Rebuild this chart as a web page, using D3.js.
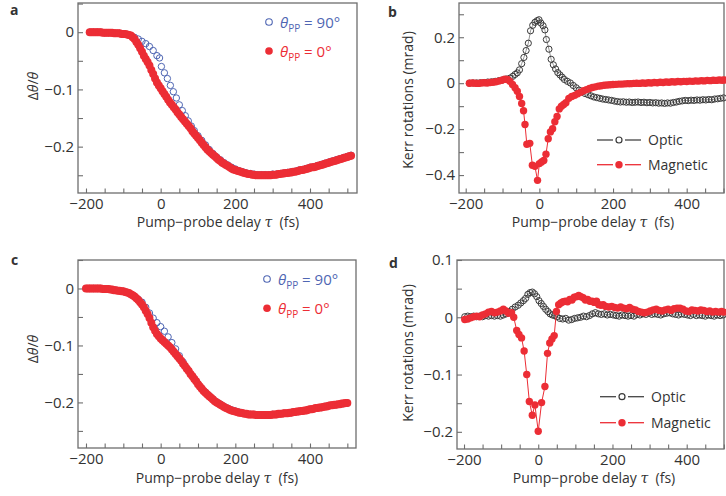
<!DOCTYPE html>
<html><head><meta charset="utf-8">
<script src="https://cdn.jsdelivr.net/npm/d3@7"></script>
<style>
body{margin:0;background:#fff}
svg{display:block}
text{font-family:"Open Sans",sans-serif;fill:#333}
</style>
</head><body>
<script>
// ---------------- DATA ----------------
const xMajorTicks = [-200, 0, 200, 400];
const xAllTicks = [-200, -150, -100, -50, 0, 50, 100, 150, 200, 250, 300, 350, 400, 450, 500];
const yTicksAC = [0, -0.1, -0.2];
const yAllAC = [0.05, 0, -0.05, -0.1, -0.15, -0.2, -0.25];
const yTicksB = [0.2, 0, -0.2, -0.4];
const yAllB = [0.3, 0.2, 0.1, 0, -0.1, -0.2, -0.3, -0.4];
const yTicksD = [0.1, 0, -0.1, -0.2];
const yAllD = [0.1, 0.05, 0, -0.05, -0.1, -0.15, -0.2];

const seriesNamesAC = ["θPP = 90°", "θPP = 0°"];
const seriesNamesBD = ["Optic", "Magnetic"];

// panel a : theta_PP = 90 deg (blue open)
const a90 = [[-190,0],[-180,0],[-170,0],[-160,0],[-150,-0.001],[-140,-0.001],[-130,-0.001],[-120,-0.002],[-110,-0.002],[-100,-0.003],[-90,-0.004],[-80,-0.006],[-70,-0.009],[-60,-0.012],[-50,-0.016],[-40,-0.020],[-30,-0.025],[-20,-0.032],[-10,-0.041],[-3,-0.045],[2,-0.060],[10,-0.071],[18,-0.081],[26,-0.093],[34,-0.104],[42,-0.115],[50,-0.127],[58,-0.137],[66,-0.146],[74,-0.155],[82,-0.164],[90,-0.172],[100,-0.181],[110,-0.189],[120,-0.197],[130,-0.205],[140,-0.212],[150,-0.218],[160,-0.223],[170,-0.228],[180,-0.232],[190,-0.236],[200,-0.239],[210,-0.242],[220,-0.244],[230,-0.246],[240,-0.247],[250,-0.248],[260,-0.249],[270,-0.249],[280,-0.249],[290,-0.249],[300,-0.248],[310,-0.248],[320,-0.247],[330,-0.246],[340,-0.245],[350,-0.244],[360,-0.243],[370,-0.241],[380,-0.240],[390,-0.238],[400,-0.236],[410,-0.235],[420,-0.233],[430,-0.231],[440,-0.229],[450,-0.227],[460,-0.225],[470,-0.223],[480,-0.221],[490,-0.219],[500,-0.217],[510,-0.215]];
// panel a : theta_PP = 0 deg (red filled)
const a0 = [[-190,0],[-185,0],[-180,0],[-175,0],[-170,0],[-165,0],[-160,0],[-155,-0.001],[-150,-0.001],[-145,-0.001],[-140,-0.001],[-135,-0.001],[-130,-0.001],[-125,-0.002],[-120,-0.002],[-115,-0.002],[-110,-0.002],[-105,-0.003],[-100,-0.003],[-95,-0.003],[-90,-0.004],[-85,-0.005],[-80,-0.006],[-75,-0.009],[-70,-0.012],[-65,-0.017],[-60,-0.022],[-55,-0.028],[-50,-0.034],[-45,-0.041],[-40,-0.047],[-35,-0.052],[-30,-0.058],[-25,-0.066],[-20,-0.073],[-15,-0.081],[-10,-0.088],[-5,-0.093],[0,-0.098],[5,-0.103],[10,-0.108],[15,-0.113],[20,-0.118],[25,-0.123],[30,-0.127],[35,-0.131],[40,-0.135],[45,-0.140],[50,-0.144],[55,-0.148],[60,-0.152],[65,-0.156],[70,-0.160],[75,-0.164],[80,-0.168],[85,-0.173],[90,-0.177],[95,-0.181],[100,-0.185],[105,-0.189],[110,-0.193],[115,-0.197],[120,-0.201],[125,-0.205],[130,-0.208],[135,-0.211],[140,-0.214],[145,-0.217],[150,-0.220],[155,-0.223],[160,-0.225],[165,-0.228],[170,-0.230],[175,-0.232],[180,-0.234],[185,-0.236],[190,-0.238],[195,-0.240],[200,-0.241],[205,-0.242],[210,-0.243],[215,-0.244],[220,-0.245],[225,-0.246],[230,-0.247],[235,-0.248],[240,-0.248],[245,-0.249],[250,-0.249],[255,-0.250],[260,-0.250],[265,-0.250],[270,-0.250],[275,-0.250],[280,-0.250],[285,-0.250],[290,-0.250],[295,-0.250],[300,-0.249],[305,-0.249],[310,-0.249],[315,-0.248],[320,-0.248],[325,-0.247],[330,-0.247],[335,-0.246],[340,-0.246],[345,-0.245],[350,-0.245],[355,-0.244],[360,-0.244],[365,-0.243],[370,-0.242],[375,-0.241],[380,-0.241],[385,-0.240],[390,-0.239],[395,-0.238],[400,-0.237],[405,-0.236],[410,-0.236],[415,-0.235],[420,-0.234],[425,-0.233],[430,-0.232],[435,-0.231],[440,-0.230],[445,-0.229],[450,-0.228],[455,-0.227],[460,-0.226],[465,-0.225],[470,-0.224],[475,-0.223],[480,-0.222],[485,-0.221],[490,-0.220],[495,-0.219],[500,-0.218],[505,-0.217],[510,-0.216]];

// panel c
const c90 = [[-200,0],[-190,0],[-180,0],[-170,0],[-160,0],[-150,-0.001],[-140,-0.001],[-130,-0.002],[-120,-0.003],[-110,-0.004],[-100,-0.005],[-90,-0.007],[-80,-0.010],[-70,-0.014],[-60,-0.019],[-50,-0.024],[-40,-0.033],[-30,-0.043],[-20,-0.052],[-10,-0.060],[0,-0.067],[10,-0.075],[20,-0.085],[30,-0.095],[40,-0.106],[50,-0.118],[60,-0.129],[70,-0.140],[80,-0.150],[90,-0.158],[100,-0.167],[110,-0.175],[120,-0.182],[130,-0.188],[140,-0.194],[150,-0.199],[160,-0.203],[170,-0.207],[180,-0.210],[190,-0.213],[200,-0.215],[210,-0.217],[220,-0.219],[230,-0.220],[240,-0.221],[250,-0.221],[260,-0.222],[270,-0.222],[280,-0.222],[290,-0.222],[300,-0.221],[310,-0.221],[320,-0.220],[330,-0.219],[340,-0.219],[350,-0.218],[360,-0.217],[370,-0.216],[380,-0.215],[390,-0.214],[400,-0.212],[410,-0.211],[420,-0.210],[430,-0.209],[440,-0.207],[450,-0.206],[460,-0.205],[470,-0.204],[480,-0.203],[490,-0.202],[500,-0.201]];
const c0 = [[-200,0],[-195,0],[-190,0],[-185,0],[-180,0],[-175,0],[-170,0],[-165,0],[-160,0],[-155,-0.001],[-150,-0.001],[-145,-0.001],[-140,-0.001],[-135,-0.002],[-130,-0.002],[-125,-0.003],[-120,-0.003],[-115,-0.004],[-110,-0.004],[-105,-0.005],[-100,-0.005],[-95,-0.006],[-90,-0.007],[-85,-0.008],[-80,-0.010],[-75,-0.012],[-70,-0.014],[-65,-0.017],[-60,-0.020],[-55,-0.024],[-50,-0.028],[-45,-0.033],[-40,-0.039],[-35,-0.045],[-30,-0.052],[-25,-0.060],[-20,-0.068],[-15,-0.074],[-10,-0.080],[-5,-0.084],[0,-0.088],[5,-0.091],[10,-0.094],[15,-0.097],[20,-0.100],[25,-0.103],[30,-0.107],[35,-0.111],[40,-0.115],[45,-0.119],[50,-0.123],[55,-0.127],[60,-0.132],[65,-0.136],[70,-0.141],[75,-0.145],[80,-0.150],[85,-0.154],[90,-0.159],[95,-0.163],[100,-0.168],[105,-0.172],[110,-0.176],[115,-0.180],[120,-0.183],[125,-0.186],[130,-0.189],[135,-0.192],[140,-0.195],[145,-0.198],[150,-0.200],[155,-0.202],[160,-0.204],[165,-0.206],[170,-0.208],[175,-0.210],[180,-0.211],[185,-0.213],[190,-0.214],[195,-0.215],[200,-0.216],[205,-0.217],[210,-0.218],[215,-0.218],[220,-0.219],[225,-0.220],[230,-0.220],[235,-0.221],[240,-0.221],[245,-0.221],[250,-0.221],[255,-0.222],[260,-0.222],[265,-0.222],[270,-0.222],[275,-0.222],[280,-0.222],[285,-0.222],[290,-0.222],[295,-0.222],[300,-0.221],[305,-0.221],[310,-0.221],[315,-0.220],[320,-0.220],[325,-0.220],[330,-0.219],[335,-0.219],[340,-0.219],[345,-0.218],[350,-0.218],[355,-0.217],[360,-0.217],[365,-0.216],[370,-0.216],[375,-0.215],[380,-0.215],[385,-0.214],[390,-0.214],[395,-0.213],[400,-0.212],[405,-0.212],[410,-0.211],[415,-0.210],[420,-0.210],[425,-0.209],[430,-0.209],[435,-0.208],[440,-0.207],[445,-0.207],[450,-0.206],[455,-0.205],[460,-0.205],[465,-0.204],[470,-0.204],[475,-0.203],[480,-0.203],[485,-0.202],[490,-0.202],[495,-0.201],[500,-0.201]];

// panel b
const bOptic = [[-190,0.000],[-180,0.001],[-170,0.001],[-160,0.002],[-150,0.003],[-140,0.005],[-130,0.006],[-120,0.008],[-110,0.011],[-100,0.014],[-90,0.018],[-80,0.022],[-72,0.030],[-66,0.038],[-60,0.045],[-54,0.058],[-48,0.085],[-42,0.112],[-36,0.142],[-30,0.174],[-24,0.228],[-18,0.252],[-12,0.265],[-6,0.272],[-1,0.276],[4,0.262],[10,0.250],[15,0.232],[19,0.190],[26,0.148],[32,0.104],[38,0.080],[44,0.062],[50,0.046],[56,0.036],[62,0.026],[68,0.016],[76,0.008],[84,0.001],[92,-0.010],[100,-0.020],[108,-0.030],[116,-0.038],[124,-0.045],[132,-0.050],[140,-0.055],[148,-0.060],[156,-0.063],[164,-0.066],[172,-0.069],[180,-0.071],[188,-0.073],[196,-0.075],[204,-0.078],[212,-0.080],[220,-0.082],[228,-0.081],[236,-0.083],[244,-0.082],[252,-0.084],[260,-0.083],[268,-0.082],[276,-0.084],[284,-0.083],[292,-0.085],[300,-0.084],[308,-0.086],[316,-0.085],[324,-0.087],[332,-0.086],[340,-0.088],[348,-0.086],[356,-0.087],[364,-0.084],[372,-0.082],[380,-0.079],[388,-0.077],[396,-0.075],[404,-0.076],[412,-0.074],[420,-0.075],[428,-0.073],[436,-0.074],[444,-0.072],[452,-0.073],[460,-0.071],[468,-0.072],[476,-0.069],[484,-0.068],[492,-0.066],[500,-0.064]];
const bMag = [[-190,0.000],[-182,0.001],[-174,0.000],[-166,-0.001],[-158,0.001],[-150,0.002],[-142,0.001],[-134,0.003],[-126,0.004],[-118,0.006],[-110,0.009],[-102,0.013],[-94,0.017],[-87,0.016],[-80,0.008],[-73,-0.006],[-66,-0.020],[-60,-0.035],[-54,-0.058],[-48,-0.088],[-43,-0.120],[-39,-0.180],[-34,-0.266],[-26,-0.262],[-19,-0.357],[-12,-0.362],[-5,-0.423],[0,-0.350],[6,-0.343],[12,-0.336],[18,-0.309],[24,-0.242],[30,-0.212],[36,-0.198],[42,-0.168],[48,-0.145],[54,-0.112],[60,-0.100],[66,-0.093],[72,-0.085],[80,-0.066],[88,-0.058],[96,-0.053],[104,-0.046],[112,-0.040],[120,-0.033],[128,-0.028],[136,-0.023],[144,-0.019],[152,-0.016],[160,-0.013],[168,-0.011],[176,-0.009],[184,-0.008],[192,-0.007],[200,-0.006],[208,-0.005],[216,-0.004],[224,-0.004],[232,-0.003],[240,-0.002],[248,-0.002],[256,-0.001],[264,0.000],[272,-0.001],[280,0.001],[288,0.000],[296,0.002],[304,0.001],[312,0.003],[320,0.002],[328,0.004],[336,0.003],[344,0.005],[352,0.004],[360,0.006],[368,0.005],[376,0.007],[384,0.006],[392,0.008],[400,0.007],[408,0.009],[416,0.008],[424,0.010],[432,0.009],[440,0.011],[448,0.010],[456,0.012],[464,0.011],[472,0.013],[480,0.012],[488,0.014],[496,0.013],[502,0.014]];

// panel d
const dOptic = [[-198,0.001],[-190,0.002],[-182,0.001],[-174,0.002],[-166,0.001],[-158,0.002],[-150,0.001],[-142,0.003],[-134,0.002],[-126,0.003],[-118,0.002],[-110,0.003],[-102,0.002],[-94,0.004],[-86,0.006],[-78,0.010],[-70,0.014],[-62,0.018],[-54,0.021],[-47,0.025],[-40,0.029],[-34,0.033],[-28,0.040],[-22,0.043],[-16,0.044],[-10,0.041],[-4,0.036],[2,0.029],[8,0.024],[14,0.019],[20,0.014],[26,0.010],[32,0.006],[38,0.004],[44,0.003],[50,0.001],[58,-0.002],[66,-0.003],[74,-0.002],[82,-0.005],[90,-0.004],[98,-0.002],[106,-0.001],[114,0.000],[122,0.002],[130,0.001],[138,0.003],[146,0.006],[154,0.008],[162,0.006],[170,0.005],[178,0.006],[186,0.004],[194,0.005],[202,0.004],[210,0.003],[218,0.002],[226,0.004],[234,0.003],[242,0.002],[250,0.003],[258,0.002],[266,0.005],[274,0.004],[282,0.006],[290,0.005],[298,0.007],[306,0.005],[314,0.006],[322,0.005],[330,0.004],[338,0.006],[346,0.007],[354,0.008],[362,0.006],[370,0.005],[378,0.004],[386,0.006],[394,0.005],[402,0.004],[410,0.003],[418,0.005],[426,0.003],[434,0.004],[442,0.003],[450,0.002],[458,0.004],[466,0.003],[474,0.002],[482,0.004],[490,0.003],[498,0.004]];
const dMag = [[-198,-0.004],[-190,-0.003],[-182,-0.001],[-174,0.001],[-166,0.002],[-158,0.001],[-150,0.004],[-142,0.006],[-134,0.009],[-126,0.010],[-118,0.008],[-110,0.009],[-102,0.011],[-94,0.014],[-87,0.011],[-80,0.007],[-72,0.008],[-66,0.000],[-58,-0.023],[-52,-0.030],[-45,-0.036],[-38,-0.059],[-31,-0.100],[-24,-0.147],[-16,-0.171],[-9,-0.153],[0,-0.199],[9,-0.149],[18,-0.121],[25,-0.063],[31,-0.045],[37,-0.038],[43,-0.032],[49,0.010],[55,0.022],[61,0.025],[67,0.027],[73,0.028],[79,0.027],[85,0.031],[91,0.030],[97,0.035],[103,0.036],[109,0.038],[115,0.036],[121,0.034],[127,0.030],[133,0.031],[139,0.028],[145,0.028],[151,0.026],[157,0.028],[163,0.022],[169,0.021],[175,0.022],[182,0.019],[190,0.018],[198,0.019],[206,0.017],[214,0.016],[222,0.018],[230,0.016],[238,0.015],[246,0.017],[254,0.014],[262,0.013],[270,0.010],[278,0.009],[286,0.008],[294,0.009],[302,0.011],[310,0.013],[318,0.014],[326,0.012],[334,0.011],[342,0.013],[350,0.014],[358,0.012],[366,0.015],[374,0.016],[382,0.016],[390,0.014],[398,0.011],[406,0.010],[414,0.013],[422,0.012],[430,0.011],[438,0.013],[446,0.012],[454,0.010],[462,0.011],[470,0.009],[478,0.010],[486,0.009],[494,0.010],[500,0.009]];

// ---------------- STYLE ----------------
const RED = "#ec2d35", BLUE = "#4f66b3", FRAME = "#6e6e6e", BLACK = "#3a3a3a";

const svg = d3.select("body").append("svg").attr("width", 726).attr("height", 496);

const fmt = d => d === 0 ? "0" : String(d).replace("-", "\u2212");

function panel(cfg) {
  const g = svg.append("g");
  const x = d3.scaleLinear().domain(cfg.xd).range(cfg.xr);
  const y = d3.scaleLinear().domain(cfg.yd).range(cfg.yr);

  // axes
  const ax = g.append("g").attr("transform", `translate(0,${cfg.yr[0]})`)
    .call(d3.axisBottom(x).tickValues(xAllTicks.filter(v => v >= cfg.xd[0] && v <= cfg.xd[1]))
      .tickSizeInner(-4.5).tickSizeOuter(0).tickPadding(5)
      .tickFormat(d => xMajorTicks.includes(d) ? fmt(d) : ""));
  const ay = g.append("g").attr("transform", `translate(${cfg.xr[0]},0)`)
    .call(d3.axisLeft(y).tickValues(cfg.yAll)
      .tickSizeInner(-5).tickSizeOuter(0).tickPadding(4)
      .tickFormat(d => cfg.yMajor.some(v => Math.abs(v - d) < 1e-9) ? fmt(d) : ""));
  [ax, ay].forEach(a => {
    a.select(".domain").remove();
    a.selectAll(".tick line").attr("stroke", FRAME).attr("stroke-width", 1.1);
    a.selectAll(".tick text").attr("font-size", 15).attr("fill", "#333")
      .attr("font-family", "'Open Sans',sans-serif");
  });

  // frame
  g.append("rect").attr("x", cfg.xr[0]).attr("y", cfg.yr[1])
    .attr("width", cfg.xr[1] - cfg.xr[0]).attr("height", cfg.yr[0] - cfg.yr[1])
    .attr("fill", "none").attr("stroke", FRAME).attr("stroke-width", 1.3);

  // x title
  const xt = g.append("text").attr("x", cfg.xtX).attr("y", cfg.xtY)
    .attr("text-anchor", "middle").attr("font-size", 14);
  xt.append("tspan").text("Pump\u2212probe delay ");
  xt.append("tspan").attr("font-style", "italic").attr("font-family", "'DejaVu Serif',serif").text("\u03c4");
  xt.append("tspan").text("\u00a0\u00a0(fs)");

  // y title
  const yt = g.append("text")
    .attr("transform", `translate(${cfg.ytX},${cfg.ytY}) rotate(-90)`)
    .attr("text-anchor", "middle").attr("font-size", 14);
  if (cfg.kind === "ac") {
    yt.append("tspan").text("\u0394");
    yt.append("tspan").attr("font-style", "italic").text("\u03b8");
    yt.append("tspan").text("/");
    yt.append("tspan").attr("font-style", "italic").text("\u03b8");
  } else {
    yt.text("Kerr rotations (mrad)");
  }

  // panel letter
  g.append("text").attr("x", cfg.lx).attr("y", cfg.ly).attr("font-size", 14)
    .attr("font-weight", "bold").attr("fill", "#222").text(cfg.letter);

  const clipId = "clip" + cfg.letter;
  g.append("clipPath").attr("id", clipId).append("rect")
    .attr("x", cfg.xr[0]).attr("y", cfg.yr[1] - 5)
    .attr("width", cfg.xr[1] - cfg.xr[0] + 5).attr("height", cfg.yr[0] - cfg.yr[1] + 5);
  const plot = g.append("g").attr("clip-path", `url(#${clipId})`);

  if (cfg.kind === "ac") {
    plot.selectAll("circle.s90").data(cfg.s1).join("circle").attr("class", "s90")
      .attr("cx", d => x(d[0])).attr("cy", d => y(d[1])).attr("r", 3.2)
      .attr("fill", "none").attr("stroke", BLUE).attr("stroke-width", 1);
    plot.selectAll("circle.s0").data(cfg.s2).join("circle").attr("class", "s0")
      .attr("cx", d => x(d[0])).attr("cy", d => y(d[1])).attr("r", 4)
      .attr("fill", RED);

    // legend
    const L = cfg.leg;
    const names = seriesNamesAC;
    [0, 1].forEach(i => {
      const cy = L.y + i * L.dy;
      const col = i === 0 ? BLUE : RED;
      if (i === 0) g.append("circle").attr("cx", L.x).attr("cy", cy).attr("r", 3.3)
        .attr("fill", "none").attr("stroke", BLUE).attr("stroke-width", 1.1);
      else g.append("circle").attr("cx", L.x).attr("cy", cy).attr("r", 3.8).attr("fill", RED);
      const t = g.append("text").attr("x", L.x + 11).attr("y", cy + 5.5).attr("font-size", 15)
        .attr("fill", col);
      const parts = names[i].split(" = ");
      t.append("tspan").attr("font-style", "italic").attr("fill", col).text("\u03b8");
      t.append("tspan").attr("font-size", 10).attr("dy", 4).attr("fill", col).text("PP");
      t.append("tspan").attr("dy", -4).attr("fill", col).text("\u00a0= " + parts[1]);
    });
  } else {
    const line = d3.line().x(d => x(d[0])).y(d => y(d[1]));
    plot.append("path").datum(cfg.s1).attr("d", line).attr("fill", "none")
      .attr("stroke", "#666").attr("stroke-width", 0.7);
    plot.selectAll("circle.op").data(cfg.s1).join("circle").attr("class", "op")
      .attr("cx", d => x(d[0])).attr("cy", d => y(d[1])).attr("r", 3.1)
      .attr("fill", "none").attr("stroke", BLACK).attr("stroke-width", 1);
    plot.append("path").datum(cfg.s2).attr("d", line).attr("fill", "none")
      .attr("stroke", RED).attr("stroke-width", 1);
    plot.selectAll("circle.mg").data(cfg.s2).join("circle").attr("class", "mg")
      .attr("cx", d => x(d[0])).attr("cy", d => y(d[1])).attr("r", 3.7)
      .attr("fill", RED);

    // legend
    const L = cfg.leg;
    [0, 1].forEach(i => {
      const cy = L.y + i * L.dy;
      const col = i === 0 ? "#444" : RED;
      g.append("line").attr("x1", L.x).attr("x2", L.x + 16).attr("y1", cy).attr("y2", cy)
        .attr("stroke", col).attr("stroke-width", 1.3);
      g.append("line").attr("x1", L.x + 28).attr("x2", L.x + 44).attr("y1", cy).attr("y2", cy)
        .attr("stroke", col).attr("stroke-width", 1.3);
      if (i === 0) g.append("circle").attr("cx", L.x + 22).attr("cy", cy).attr("r", 3)
        .attr("fill", "none").attr("stroke", BLACK).attr("stroke-width", 1.2);
      else g.append("circle").attr("cx", L.x + 22).attr("cy", cy).attr("r", 3.7).attr("fill", RED);
      g.append("text").attr("x", L.x + 51).attr("y", cy + 5).attr("font-size", 14)
        .text(seriesNamesBD[i]);
    });
  }
}

panel({letter: "a", kind: "ac", xd: [-221.4, 525.9], xr: [78, 357], yd: [-0.281, 0.051], yr: [193, 3],
  yAll: yAllAC, yMajor: yTicksAC, s1: a90, s2: a0, xtX: 218, xtY: 227, ytX: 38, ytY: 86,
  lx: 10, ly: 15, leg: {x: 269, y: 22, dy: 29}});
panel({letter: "b", kind: "bd", xd: [-218.2, 501.3], xr: [459, 724], yd: [-0.478, 0.349], yr: [193, 3],
  yAll: yAllB, yMajor: yTicksB, s1: bOptic, s2: bMag, xtX: 593, xtY: 227, ytX: 413, ytY: 100,
  lx: 388, ly: 17, leg: {x: 597, y: 140, dy: 24.7}});
panel({letter: "c", kind: "ac", xd: [-221.4, 523.2], xr: [78, 356], yd: [-0.28, 0.05], yr: [448, 260],
  yAll: yAllAC, yMajor: yTicksAC, s1: c90, s2: c0, xtX: 217, xtY: 483, ytX: 38, ytY: 349,
  lx: 11, ly: 265, leg: {x: 267, y: 279, dy: 29.3}});
panel({letter: "d", kind: "bd", xd: [-218.9, 500.5], xr: [457, 724], yd: [-0.23, 0.1], yr: [449, 260],
  yAll: yAllD, yMajor: yTicksD, s1: dOptic, s2: dMag, xtX: 594, xtY: 483, ytX: 413, ytY: 353,
  lx: 389, ly: 268, leg: {x: 600, y: 396.7, dy: 26}});
</script>
</body></html>
